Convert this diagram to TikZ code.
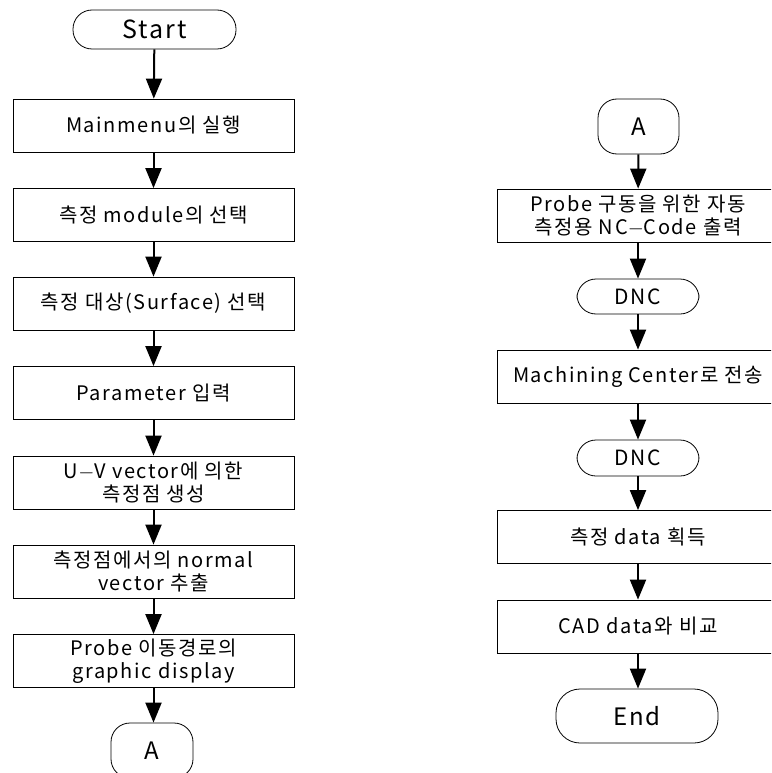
\documentclass[tikz,border=0pt]{standalone}
\usepackage{fontspec}
\setmainfont{Noto Sans CJK KR}[LetterSpace=8]
\usetikzlibrary{arrows.meta, positioning}

\tikzset{
  box/.style={draw, line width=0.8pt, minimum width=281pt, minimum height=53pt, align=center, font=\fontsize{20}{23}\selectfont},
  term/.style={draw, line width=0.8pt, rounded corners=19pt, align=center},
  flow/.style={line width=2pt, -{Triangle[length=20pt, width=16pt]}}
}

\begin{document}
\begin{tikzpicture}[x=1pt, y=-1pt]
  \useasboundingbox (0,0) rectangle (771,773);
  \clip (0,0) rectangle (771,773);

  % left column
  \node[term, minimum width=163pt, minimum height=39pt, font=\fontsize{25}{28}\selectfont] (start) at (154.5,29.5) {Start};
  \node[box] (menu) at (153.5,125.5) {Mainmenu의 실행};
  \node[box] (module) at (153.5,215) {측정 module의 선택};
  \node[box] (surf) at (153.5,303.5) {측정 대상(Surface) 선택};
  \node[box] (param) at (153.5,393) {Parameter 입력};
  \node[box] (uv) at (153.5,482.5) {U$-$V vector에 의한\\측정점 생성};
  \node[box] (normal) at (153.5,571.5) {측정점에서의 normal\\vector 추출};
  \node[box] (disp) at (153.5,661) {Probe 이동경로의\\graphic display};
  \node[term, minimum width=82pt, minimum height=55pt, font=\fontsize{24}{27}\selectfont] (outA) at (152,750.5) {A};

  \draw[flow] (start) -- (menu);
  \draw[flow] (menu) -- (module);
  \draw[flow] (module) -- (surf);
  \draw[flow] (surf) -- (param);
  \draw[flow] (param) -- (uv);
  \draw[flow] (uv) -- (normal);
  \draw[flow] (normal) -- (disp);
  \draw[flow] (disp) -- (disp |- outA.north);

  % right column
  \node[term, minimum width=81pt, minimum height=55pt, font=\fontsize{24}{27}\selectfont] (inA) at (638.5,126.5) {A};
  \node[box] (nccode) at (638,215.5) {Probe 구동을 위한 자동\\측정용 NC$-$Code 출력};
  \node[term, minimum width=122pt, minimum height=35pt, font=\fontsize{21}{24}\selectfont] (dnc1) at (638,296.5) {DNC};
  \node[box] (send) at (638,376.5) {Machining Center로 전송};
  \node[term, minimum width=122pt, minimum height=36pt, font=\fontsize{21}{24}\selectfont] (dnc2) at (638,458) {DNC};
  \node[box] (getdata) at (638,537) {측정 data 획득};
  \node[box] (cad) at (638,626.5) {CAD data와 비교};
  \node[term, minimum width=162pt, minimum height=54pt, rounded corners=24pt, font=\fontsize{24}{27}\selectfont] (end) at (637,716) {End};

  \draw[flow] (inA) -- (nccode);
  \draw[flow] (nccode) -- (dnc1);
  \draw[flow] (dnc1) -- (send);
  \draw[flow] (send) -- (dnc2);
  \draw[flow] (dnc2) -- (getdata);
  \draw[flow] (getdata) -- (cad);
  \draw[flow] (cad) -- (cad |- end.north);
\end{tikzpicture}
\end{document}
